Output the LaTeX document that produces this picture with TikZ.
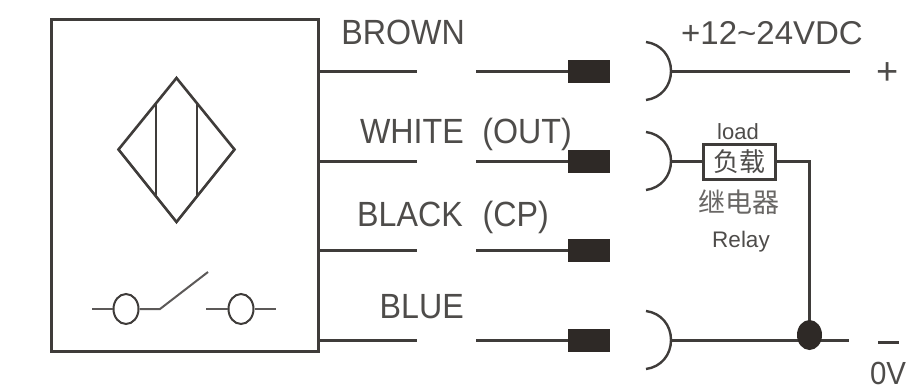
\documentclass[tikz,border=0pt]{standalone}
\usepackage{fontspec}
\setmainfont{Liberation Sans}
\newfontfamily\cond[FakeStretch=0.92]{Liberation Sans}
\newfontfamily\cjk{Noto Sans CJK SC}
\usetikzlibrary{shapes.geometric}
\definecolor{ink}{HTML}{3F3C3A}
\definecolor{txt}{HTML}{4E4C4A}
\definecolor{blk}{HTML}{2E2926}
\tikzset{
  x=1pt,y=-1pt,
  wire/.style={draw=ink,line width=3pt},
  thin wire/.style={draw=ink!85,line width=2pt},
  symbol/.style={draw=ink,line width=2.6pt,line join=miter},
  plug/.style={fill=blk,draw=none,minimum width=42pt,minimum height=23pt,inner sep=0pt,rectangle},
  lbl/.style={text=txt,font=\cond\fontsize{35}{35}\selectfont,inner sep=0pt,anchor=base east},
  small/.style={text=txt,inner sep=0pt},
  contact/.style={draw=ink,line width=2pt,ellipse,minimum width=25pt,minimum height=30pt,inner sep=0pt},
  arcwire/.style={draw=ink,line width=2.4pt},
}
\begin{document}
\begin{tikzpicture}
\useasboundingbox[fill=white] (0,0) rectangle (923,391);
% housing
\draw[draw=ink,line width=3pt] (51,19) rectangle (318,351);
% sensor symbol
\coordinate (dt) at (176.5,78);
\coordinate (dr) at (234.5,149.5);
\coordinate (db) at (176.5,222);
\coordinate (dl) at (118.5,149.5);
\draw[symbol] (dt) -- (dr) -- (db) -- (dl) -- cycle;
\draw[symbol] (156,104) -- (156,195);
\draw[symbol] (197,104) -- (197,195);
% switch
\node[contact] (c1) at (126,309) {};
\node[contact] (c2) at (241,309) {};
\coordinate (s1) at (92,309);
\coordinate (s2) at (160,309);
\coordinate (s3) at (208,272);
\coordinate (s4) at (206,309);
\coordinate (s5) at (276,309);
\draw[thin wire] (s1) -- (c1.west);
\draw[thin wire] (c1.east) -- (s2) -- (s3);
\draw[thin wire] (s4) -- (c2.west);
\draw[thin wire] (c2.east) -- (s5);
% wires + plugs
\foreach \n/\y in {a/71,b/161,c/250,d/340}{
  \node[plug] (p\n) at (589,\y) {};
  \coordinate (w\n1) at (318,\y);
  \coordinate (w\n2) at (417,\y);
  \coordinate (w\n3) at (476,\y);
  \draw[wire] (w\n1) -- (w\n2);
  \draw[wire] (w\n3) -- (p\n.west);
}
% labels
\node[lbl] (lb) at (465,44) {BROWN};
\node[lbl] (lw) at (464,143) {WHITE};
\node[lbl] (lo) at (572,143) {(OUT)};
\node[lbl] (lk) at (463,226) {BLACK};
\node[lbl] (lc) at (549,226) {(CP)};
\node[lbl] (lu) at (464,318) {BLUE};
% sockets
\foreach \n/\y in {a/71,b/161,d/340}{
  \coordinate (m\n) at (671,\y);
  \draw[arcwire] (646,\y-29) .. controls (661,\y-27) and (671,\y-15) .. (m\n)
     .. controls (671,\y+15) and (661,\y+27) .. (646,\y+29);
}
% + line
\coordinate (plusend) at (850,71);
\draw[wire] (ma) -- (plusend);
\node[small,font=\fontsize{33}{33}\selectfont,anchor=base] (volt) at (772,44) {+12\textasciitilde24VDC};
\node[small,font=\fontsize{38}{38}\selectfont] (plus) at (888,74) {+};
% load
\node[draw=ink,line width=3pt,minimum width=72pt,minimum height=35pt,inner sep=0pt,text=txt,font=\cjk\fontsize{26}{26}\selectfont] (load) at (739.5,162) {负载};
\coordinate (corner) at (809,161);
\coordinate (junction) at (809,340);
\coordinate (minusend) at (849,340);
\draw[wire] (mb) -- (load.west |- mb);
\draw[wire] (load.east |- corner) -- (corner) -- (junction);
\draw[wire] (md) -- (minusend);
\node[fill=blk,ellipse,minimum width=25pt,minimum height=30pt,inner sep=0pt] (dot) at (809.5,335) {};
\node[small,font=\fontsize{22}{22}\selectfont,anchor=base] (tload) at (738,139) {load};
\node[small,text=txt!85,font=\cjk\fontsize{27}{27}\selectfont] (trel) at (739,202) {继电器};
\node[small,font=\fontsize{22.5}{22.5}\selectfont,anchor=base] (trele) at (741,247) {Relay};
\node[draw=none,fill=ink,minimum width=21pt,minimum height=3pt,inner sep=0pt] (minus) at (888.5,342) {};
\node[small,font=\cond\fontsize{32}{32}\selectfont,anchor=base] (ov) at (888,384) {0V};
\end{tikzpicture}
\end{document}
